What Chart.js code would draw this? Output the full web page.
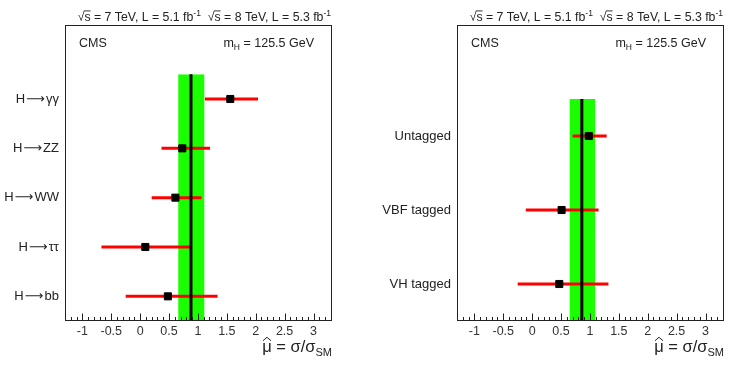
<!DOCTYPE html>
<html><head><meta charset="utf-8">
<script src="https://cdn.jsdelivr.net/npm/chart.js@4"></script>
<style>
html,body{margin:0;padding:0;background:#fff;}
#wrap{position:relative;width:747px;height:371px;overflow:hidden;background:#fff;}
canvas{position:absolute;top:0;}
#c1{left:0}
#c2{left:370px}
</style></head><body>
<div id="wrap"><canvas id="c1" width="370" height="371"></canvas><canvas id="c2" width="377" height="371"></canvas></div>
<script>
// ---- data (left panel: by decay mode) ----
const decayLabels = ['H\u200a\u27f6\u200a\u03b3\u03b3', 'H\u200a\u27f6\u200aZZ', 'H\u200a\u27f6\u200aWW', 'H\u200a\u27f6\u200a\u03c4\u03c4', 'H\u200a\u27f6\u200abb'];
const decayMu     = [1.56, 0.73, 0.61, 0.09, 0.48];
const decayLo     = [1.12, 0.37, 0.20, -0.67, -0.25];
const decayHi     = [2.04, 1.21, 1.06, 0.88, 1.34];
const decayCombined = [0.88];
const decayBand     = [0.66, 1.11];

// ---- data (right panel: by tag) ----
const tagLabels = ['Untagged', 'VBF tagged', 'VH tagged'];
const tagMu     = [0.98, 0.51, 0.47];
const tagLo     = [0.70, -0.11, -0.25];
const tagHi     = [1.29, 1.15, 1.32];
const tagCombined = [0.86];
const tagBand     = [0.65, 1.09];

// ---- axis ----
const xTickValues = [-1, -0.5, 0, 0.5, 1, 1.5, 2, 2.5, 3];
const xRange = [-1.3, 3.32];

const FONT = '"Liberation Sans", Arial, "DejaVu Sans", sans-serif';
Chart.defaults.font.family = FONT;

function drawRich(ctx, parts, xRight, baseline) {
  let total = 0;
  parts.forEach(p => { ctx.font = p.size + 'px ' + FONT; p.w = ctx.measureText(p.t).width; total += p.w; });
  let x = xRight - total;
  ctx.textAlign = 'left';
  ctx.textBaseline = 'alphabetic';
  parts.forEach(p => {
    ctx.font = p.size + 'px ' + FONT;
    const y = baseline + (p.dy || 0);
    ctx.fillText(p.t, x, y);
    if (p.over) {
      ctx.beginPath(); ctx.lineWidth = 0.9;
      ctx.moveTo(x - 0.5, y - p.size * 0.78); ctx.lineTo(x + p.w, y - p.size * 0.78); ctx.stroke();
    }
    if (p.hat) {
      const cx = x + p.w / 2, top = y - p.size * 0.5 - 6;
      ctx.beginPath(); ctx.lineWidth = 1;
      ctx.moveTo(cx - 4, top + 3.5); ctx.lineTo(cx, top); ctx.lineTo(cx + 4, top + 3.5); ctx.stroke();
    }
    x += p.w;
  });
}

const decor = {
  id: 'decor',
  afterDraw(chart) {
    const ctx = chart.ctx, a = chart.chartArea, xs = chart.scales.x;
    ctx.save();
    ctx.strokeStyle = '#222'; ctx.fillStyle = '#222'; ctx.lineWidth = 1;
    const L = Math.round(a.left) + 0.5, T = Math.round(a.top) + 0.5, R = Math.round(a.right) - 0.5, B = Math.round(a.bottom) - 0.5;
    ctx.strokeRect(L, T, R - L, B - T);
    for (let k = Math.ceil(xs.min * 10); k <= Math.floor(xs.max * 10); k++) {
      const px = Math.round(xs.getPixelForValue(k / 10)) + 0.5;
      const major = k % 5 === 0;
      ctx.beginPath(); ctx.moveTo(px, B); ctx.lineTo(px, B - (major ? 7 : 3.5)); ctx.stroke();
    }
    drawRich(ctx, [
      {t: '\u221a', size: 12.3}, {t: 's', size: 12.3, over: true}, {t: ' = 7 TeV, L = 5.1 fb', size: 12.3}, {t: '-1', size: 8.5, dy: -5},
      {t: '  ', size: 12.3},
      {t: '\u221a', size: 12.3}, {t: 's', size: 12.3, over: true}, {t: ' = 8 TeV, L = 5.3 fb', size: 12.3}, {t: '-1', size: 8.5, dy: -5}
    ], a.right - 1, 20.5);
    ctx.font = '12.5px ' + FONT; ctx.textAlign = 'left';
    ctx.fillText('CMS', a.left + 14, 46.5);
    drawRich(ctx, [{t: 'm', size: 12.5}, {t: 'H', size: 8.5, dy: 3.5}, {t: ' = 125.5 GeV', size: 12.5}], a.right - 18, 46.5);
    drawRich(ctx, [{t: '\u03bc', size: 16.5, hat: true}, {t: ' = \u03c3/\u03c3', size: 16.5}, {t: 'SM', size: 11, dy: 4}], a.right, 351.5);
    ctx.restore();
  }
};

function makePanel(canvasId, labels, mu, lo, hi, combined, band, yAxisWidth, rightPad) {
  const n = labels.length;
  const yOf = i => n - 1 - i;
  const datasets = [];
  datasets.push({data: [{x: band[0], y: n - 0.5}, {x: band[0], y: -0.5}], borderWidth: 0, borderColor: '#1aff00',
    backgroundColor: '#1aff00', pointRadius: 0, fill: '+1', order: 10});
  datasets.push({data: [{x: band[1], y: n - 0.5}, {x: band[1], y: -0.5}], borderWidth: 0, borderColor: '#1aff00',
    pointRadius: 0, fill: false, order: 10});
  labels.forEach((_, i) => {
    datasets.push({data: [{x: lo[i], y: yOf(i)}, {x: hi[i], y: yOf(i)}], borderColor: '#ff0000', borderWidth: 3,
      borderCapStyle: 'butt', pointRadius: 0, fill: false, order: 5});
  });
  datasets.push({data: [{x: combined[0], y: n - 0.5}, {x: combined[0], y: -0.5}], borderColor: '#000', borderWidth: 3,
    borderCapStyle: 'butt', pointRadius: 0, fill: false, order: 3});
  datasets.push({data: mu.map((m, i) => ({x: m, y: yOf(i)})), showLine: false, pointStyle: 'rect', pointRadius: 5,
    pointBackgroundColor: '#000', pointBorderColor: '#000', pointBorderWidth: 1, order: 1});

  return new Chart(document.getElementById(canvasId), {
    type: 'line',
    data: {datasets},
    options: {
      indexAxis: 'y',
      responsive: false, animation: false, events: [],
      layout: {padding: {top: 25, right: rightPad, left: 0, bottom: 0}},
      plugins: {legend: {display: false}, tooltip: {enabled: false}},
      scales: {
        x: {
          type: 'linear', min: xRange[0], max: xRange[1],
          grid: {display: false, drawTicks: false}, border: {display: false},
          afterBuildTicks: s => { s.ticks = xTickValues.map(v => ({value: v})); },
          afterFit: s => { s.height = 50; },
          ticks: {color: '#333', font: {size: 12.5}, padding: 3, maxRotation: 0, autoSkip: false,
            callback: v => String(v)}
        },
        y: {
          type: 'linear', min: -0.5, max: n + 0.5,
          grid: {display: false, drawTicks: false}, border: {display: false},
          afterBuildTicks: s => { s.ticks = labels.map((_, i) => ({value: i})); },
          afterFit: s => { s.width = yAxisWidth; },
          ticks: {color: '#222', font: {size: 13}, padding: 6, autoSkip: false,
            callback: v => labels[n - 1 - v]}
        }
      }
    },
    plugins: [decor]
  });
}

makePanel('c1', decayLabels, decayMu, decayLo, decayHi, decayCombined, decayBand, 65, 38);
makePanel('c2', tagLabels, tagMu, tagLo, tagHi, tagCombined, tagBand, 87, 23);
</script>
</body></html>
